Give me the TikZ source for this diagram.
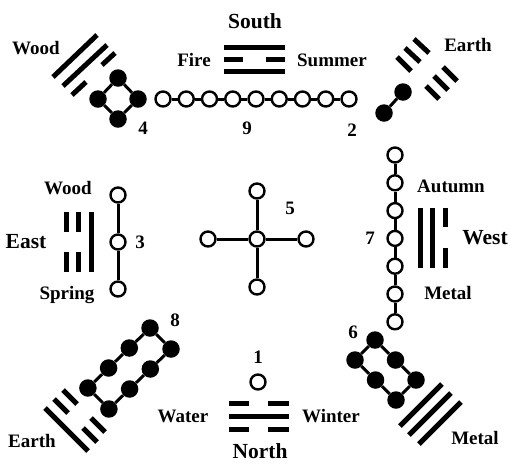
\documentclass[tikz,border=0pt]{standalone}
\usepackage{fontspec}
\setmainfont{Liberation Serif}
\begin{document}
\begin{tikzpicture}[x=1pt,y=-1pt,
  yao/.style={line width=5pt},
  link/.style={line width=3pt},
  ocirc/.style={circle,draw,line width=2.4pt,fill=white,minimum size=15pt,inner sep=0pt},
  bdot/.style={circle,fill=black,minimum size=17.5pt,inner sep=0pt},
  lab/.style={font=\fontsize{19}{22}\selectfont\bfseries,inner sep=0pt},
  dirlab/.style={font=\fontsize{21.5}{24}\selectfont\bfseries,inner sep=0pt}]
\useasboundingbox (0,0) rectangle (510,464);

% ---------- texts ----------
\node[dirlab] (tSouth) at (255,21) {South};
\node[lab] (tFire) at (194,60) {Fire};
\node[lab] (tSummer) at (332,60) {Summer};
\node[lab] (tWoodA) at (36,48) {Wood};
\node[lab] (tEarthA) at (468,45) {Earth};
\node[lab] (n4) at (143,128) {4};
\node[lab] (n9) at (247,128) {9};
\node[lab] (n2) at (352,130) {2};
\node[lab] (tWoodB) at (68,188) {Wood};
\node[dirlab] (tEast) at (26,242) {East};
\node[lab] (tSpring) at (67,295) {Spring};
\node[lab] (n3) at (140,242) {3};
\node[lab] (n5) at (290,208) {5};
\node[lab] (n7) at (370,238) {7};
\node[lab] (tAutumn) at (451,186) {Autumn};
\node[dirlab] (tWest) at (485,238) {West};
\node[lab] (tMetalA) at (448,293) {Metal};
\node[lab] (n8) at (175,320) {8};
\node[lab] (n1) at (258,357) {1};
\node[lab] (tWater) at (183,416) {Water};
\node[lab] (tWinter) at (331,416) {Winter};
\node[dirlab] (tNorth) at (260,451) {North};
\node[lab] (tEarthB) at (32,441) {Earth};
\node[lab] (n6) at (353,332) {6};
\node[lab] (tMetalB) at (475,438) {Metal};

% ---------- trigrams ----------
% Fire (South)
\draw[yao] (224,47) -- (285,47);
\draw[yao] (224,59) -- (243,59) (266,59) -- (285,59);
\draw[yao] (224,71) -- (285,71);
% Water (North)
\draw[yao] (229,403) -- (249,403) (268,403) -- (289,403);
\draw[yao] (229,416) -- (289,416);
\draw[yao] (229,429) -- (249,429) (268,429) -- (289,429);
% East
\draw[yao] (66,212) -- (66,232) (66,252) -- (66,272);
\draw[yao] (78,212) -- (78,232) (78,252) -- (78,272);
\draw[yao] (91,212) -- (91,272);
% West
\draw[yao] (420,208) -- (420,268);
\draw[yao] (432,208) -- (432,268);
\draw[yao] (445,208) -- (445,227) (445,248) -- (445,268);
% Wood (top left)
\draw[yao] (53,77) -- (97,35);
\draw[yao] (63,86) -- (107,45);
\draw[yao] (72,95) -- (86,82) (102,65) -- (115,53);
% Earth (top right)
\draw[yao] (397,57) -- (411,71) (426,86) -- (439,99);
\draw[yao] (405,48) -- (420,62) (434,76) -- (448,90);
\draw[yao] (414,39) -- (429,53) (443,67) -- (457,81);
% Earth (bottom left)
\draw[yao] (45,408) -- (88,451);
\draw[yao] (54,399) -- (68,413) (83,428) -- (97,442);
\draw[yao] (63,390) -- (77,404) (91,418) -- (105,432);
% Metal (bottom right)
\draw[yao] (400,426) -- (442,384);
\draw[yao] (409,435) -- (451,393);
\draw[yao] (419,444) -- (461,402);

% ---------- 9: chain of open circles ----------
\foreach \i in {0,...,8} \node[ocirc] (s\i) at ({163+23.25*\i},99) {};
\foreach \i [count=\j] in {0,...,7} \draw[link] (s\i) -- (s\j);

% ---------- 7: vertical chain ----------
\foreach \i in {0,...,6} \node[ocirc] (w\i) at (395,{155+27.8*\i}) {};
\foreach \i [count=\j] in {0,...,5} \draw[link] (w\i) -- (w\j);

% ---------- 3 ----------
\node[ocirc] (e1) at (118,195) {};
\node[ocirc] (e2) at (118,242) {};
\node[ocirc] (e3) at (118,289) {};
\draw[link] (e1) -- (e2) (e2) -- (e3);

% ---------- 5 ----------
\node[ocirc] (c0) at (257,239) {};
\node[ocirc] (cn) at (257,191) {};
\node[ocirc] (cs) at (257,287) {};
\node[ocirc] (cw) at (208,239) {};
\node[ocirc] (ce) at (306,239) {};
\draw[link] (c0) -- (cn) (c0) -- (cs) (c0) -- (cw) (c0) -- (ce);

% ---------- 1 ----------
\node[ocirc] (o1) at (258,382) {};

% ---------- 4 ----------
\node[bdot] (d1) at (118,78) {};
\node[bdot] (d2) at (138,99) {};
\node[bdot] (d3) at (118,119) {};
\node[bdot] (d4) at (98,99) {};
\draw[link] (d1) -- (d2) -- (d3) -- (d4) -- (d1);

% ---------- 2 ----------
\node[bdot] (t1) at (403,92) {};
\node[bdot] (t2) at (384,113) {};
\draw[link] (t1) -- (t2);

% ---------- 8 ----------
\foreach \k in {0,...,3} {
  \node[bdot] (a\k) at ({150-20.7*\k},{328+20*\k}) {};
  \node[bdot] (b\k) at ({171-20.7*\k},{349+20*\k}) {};
}
\draw[link] (a0) -- (a1) -- (a2) -- (a3) -- (b3) -- (b2) -- (b1) -- (b0) -- (a0);

% ---------- 6 ----------
\foreach \k in {0,...,2} {
  \node[bdot] (p\k) at ({375+20.5*\k},{340+20*\k}) {};
  \node[bdot] (q\k) at ({355+20.5*\k},{360+20*\k}) {};
}
\draw[link] (p0) -- (p1) -- (p2) -- (q2) -- (q1) -- (q0) -- (p0);
\end{tikzpicture}
\end{document}
